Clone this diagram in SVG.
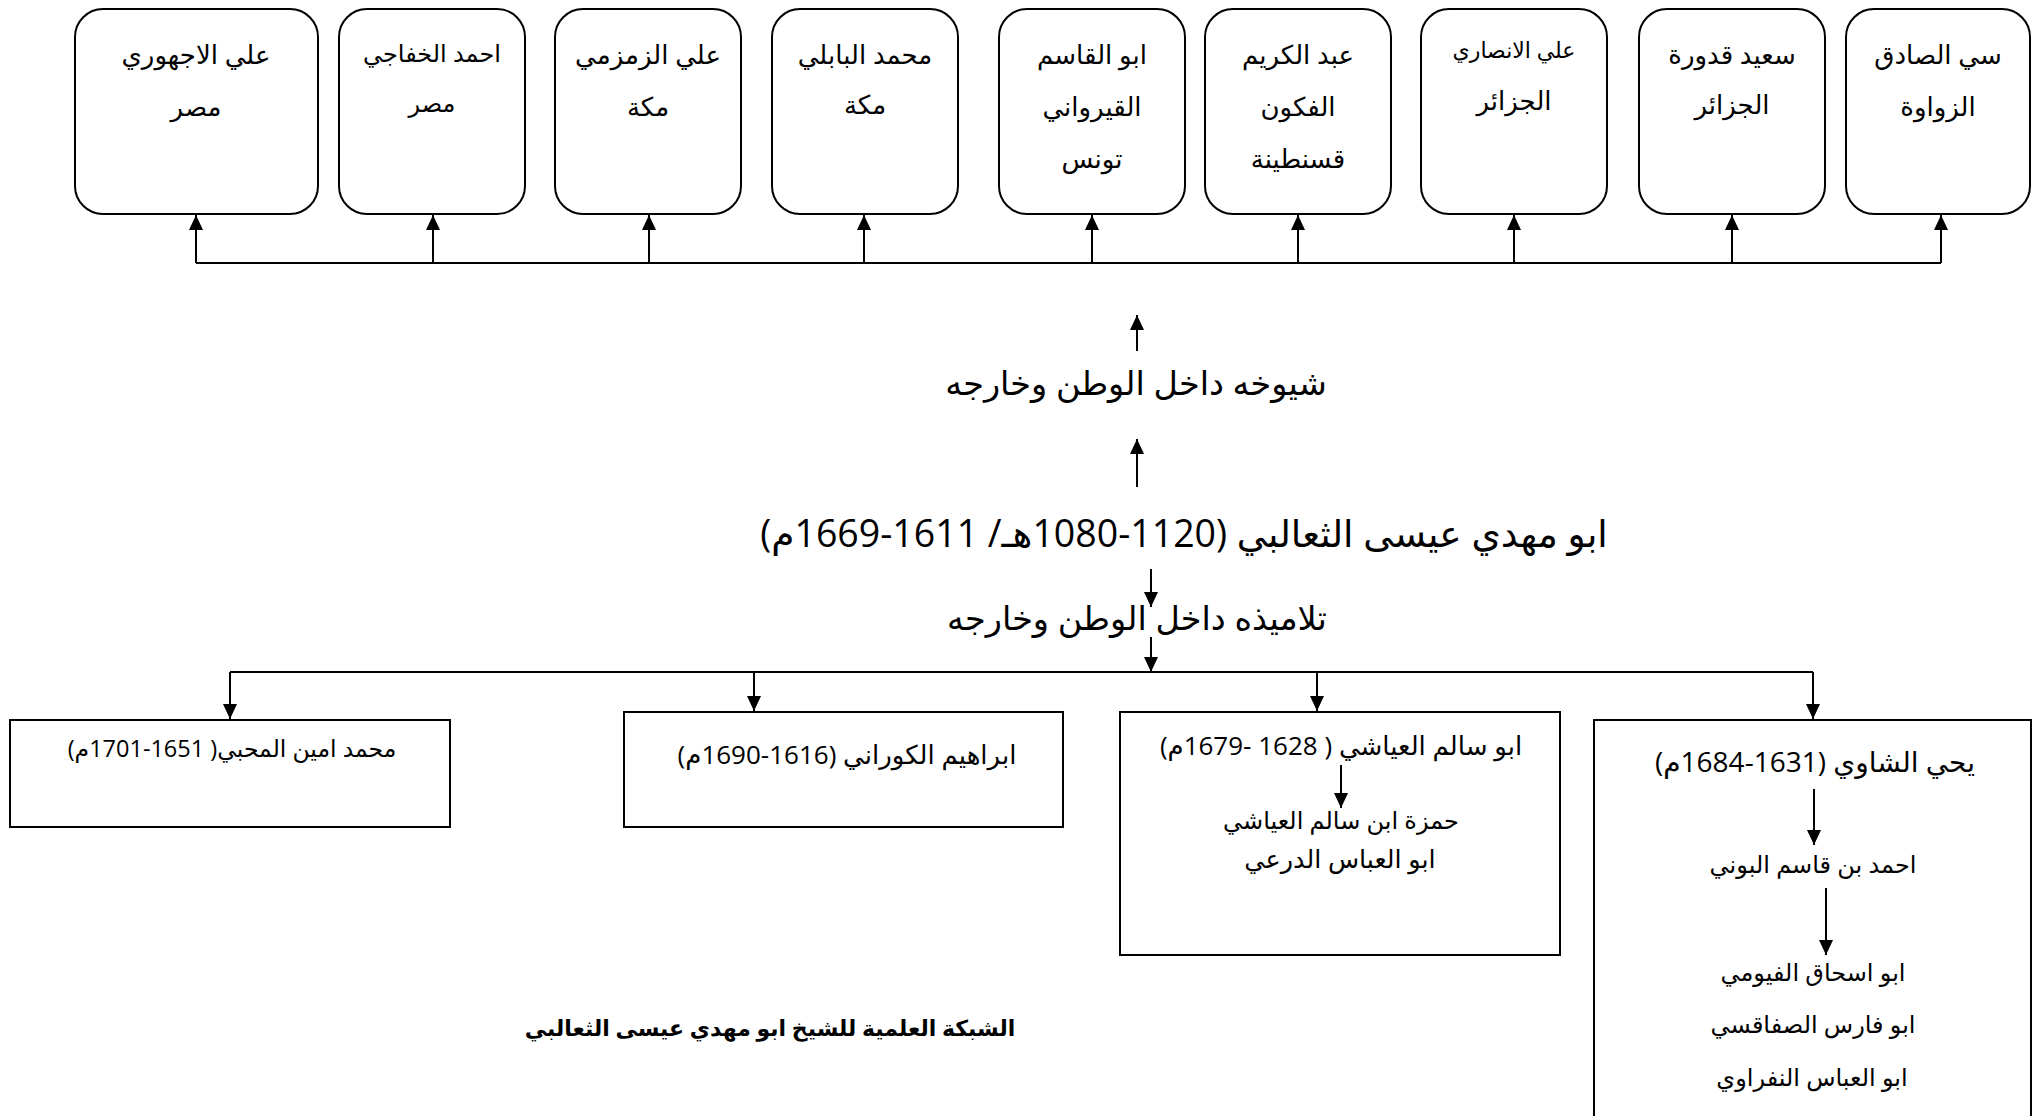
<svg xmlns="http://www.w3.org/2000/svg" width="2038" height="1116" viewBox="0 0 2038 1116">
<style>
  text { font-family: "Open Sans", "DejaVu Sans", sans-serif; fill: #000; direction: rtl; unicode-bidi: embed; text-anchor: middle; }
  .t26 { font-size: 26px; }
  .t24 { font-size: 24px; }
  .t22 { font-size: 22px; }
  .t28 { font-size: 28px; }
  .t34 { font-size: 33.5px; }
  .t40 { font-size: 37.5px; }
  .bold { font-weight: bold; font-size: 22px; }
  .rbox { fill: #fff; stroke: #000; stroke-width: 2; }
  .box { fill: #fff; stroke: #000; stroke-width: 2; }
  .conn { fill: none; stroke: #000; stroke-width: 2; }
  .arr { fill: none; stroke: #000; stroke-width: 2; marker-end: url(#ah); }
</style>
<defs>
  <marker id="ah" markerUnits="userSpaceOnUse" markerWidth="16" markerHeight="16" viewBox="0 0 16 16" refX="15" refY="8" orient="auto">
    <path d="M0,1 L15,8 L0,15 Z" fill="#000"/>
  </marker>
</defs>

<g id="teachers">
  <g id="t1"><rect class="rbox" x="75" y="9" width="243" height="205" rx="28"/>
    <text class="t26" x="196" y="64">علي الاجهوري</text><text class="t26" x="196" y="116">مصر</text></g>
  <g id="t2"><rect class="rbox" x="339" y="9" width="186" height="205" rx="28"/>
    <text class="t24" x="432" y="62">احمد الخفاجي</text><text class="t24" x="432" y="112">مصر</text></g>
  <g id="t3"><rect class="rbox" x="555" y="9" width="186" height="205" rx="28"/>
    <text class="t26" x="648" y="64">علي الزمزمي</text><text class="t26" x="648" y="116">مكة</text></g>
  <g id="t4"><rect class="rbox" x="772" y="9" width="186" height="205" rx="28"/>
    <text class="t26" x="865" y="64">محمد البابلي</text><text class="t26" x="865" y="114">مكة</text></g>
  <g id="t5"><rect class="rbox" x="999" y="9" width="186" height="205" rx="28"/>
    <text class="t26" x="1092" y="64">ابو القاسم</text><text class="t26" x="1092" y="116">القيرواني</text><text class="t26" x="1092" y="168">تونس</text></g>
  <g id="t6"><rect class="rbox" x="1205" y="9" width="186" height="205" rx="28"/>
    <text class="t26" x="1298" y="64">عبد الكريم</text><text class="t26" x="1298" y="116">الفكون</text><text class="t26" x="1298" y="168">قسنطينة</text></g>
  <g id="t7"><rect class="rbox" x="1421" y="9" width="186" height="205" rx="28"/>
    <text class="t22" x="1514" y="58">علي الانصاري</text><text class="t26" x="1514" y="110">الجزائر</text></g>
  <g id="t8"><rect class="rbox" x="1639" y="9" width="186" height="205" rx="28"/>
    <text class="t26" x="1732" y="64">سعيد قدورة</text><text class="t26" x="1732" y="114">الجزائر</text></g>
  <g id="t9"><rect class="rbox" x="1846" y="9" width="184" height="205" rx="28"/>
    <text class="t26" x="1938" y="64">سي الصادق</text><text class="t26" x="1938" y="116">الزواوة</text></g>
</g>

<g id="shuyukh"><text class="t34" x="1136" y="395">شيوخه داخل الوطن وخارجه</text></g>
<g id="main"><text class="t40" x="1184" y="547">ابو مهدي عيسى الثعالبي (1120-1080هـ/ 1611-1669م)</text></g>
<g id="talamidh"><text class="t34" x="1137" y="630">تلاميذه داخل الوطن وخارجه</text></g>

<g id="s1"><rect class="box" x="10" y="720" width="440" height="107"/>
  <text class="t24" x="232" y="757" style="font-size:23.5px">محمد امين المحبي( 1651-1701م)</text></g>
<g id="s2"><rect class="box" x="624" y="712" width="439" height="115"/>
  <text class="t26" x="847" y="764">ابراهيم الكوراني (1616-1690م)</text></g>
<g id="s3"><rect class="box" x="1120" y="712" width="440" height="243"/>
  <text class="t26" x="1341" y="755">ابو سالم العياشي ( 1628 -1679م)</text>
  <text class="t24" x="1341" y="829">حمزة ابن سالم العياشي</text>
  <text class="t24" x="1340" y="868" style="font-size:25.5px">ابو العباس الدرعي</text></g>
<g id="s4"><rect class="box" x="1594" y="720" width="437" height="420"/>
  <text class="t28" x="1815" y="772">يحي الشاوي (1631-1684م)</text>
  <text class="t24" x="1813" y="873">احمد بن قاسم البوني</text>
  <text class="t24" x="1813" y="981">ابو اسحاق الفيومي</text>
  <text class="t24" x="1813" y="1033">ابو  فارس الصفاقسي</text>
  <text class="t24" x="1812" y="1086">ابو العباس النفراوي</text></g>

<g id="caption"><text class="bold" x="770" y="1036">الشبكة العلمية للشيخ ابو مهدي عيسى الثعالبي</text></g>

<g id="connectors">
  <path class="conn" d="M196,263 H1941"/>
  <path class="arr" d="M196,263 V215"/>
  <path class="arr" d="M433,263 V215"/>
  <path class="arr" d="M649,263 V215"/>
  <path class="arr" d="M864,263 V215"/>
  <path class="arr" d="M1092,263 V215"/>
  <path class="arr" d="M1298,263 V215"/>
  <path class="arr" d="M1514,263 V215"/>
  <path class="arr" d="M1732,263 V215"/>
  <path class="arr" d="M1941,263 V215"/>
  <path class="arr" d="M1137,351 V315"/>
  <path class="arr" d="M1137,487 V439"/>
  <path class="arr" d="M1151,569 V607"/>
  <path class="arr" d="M1151,637 V672"/>
  <path class="conn" d="M230,672 H1813"/>
  <path class="arr" d="M230,672 V719"/>
  <path class="arr" d="M754,672 V711"/>
  <path class="arr" d="M1317,672 V711"/>
  <path class="arr" d="M1813,672 V719"/>
  <path class="arr" d="M1341,765 V808"/>
  <path class="arr" d="M1814,789 V845"/>
  <path class="arr" d="M1826,888 V955"/>
</g>
</svg>
